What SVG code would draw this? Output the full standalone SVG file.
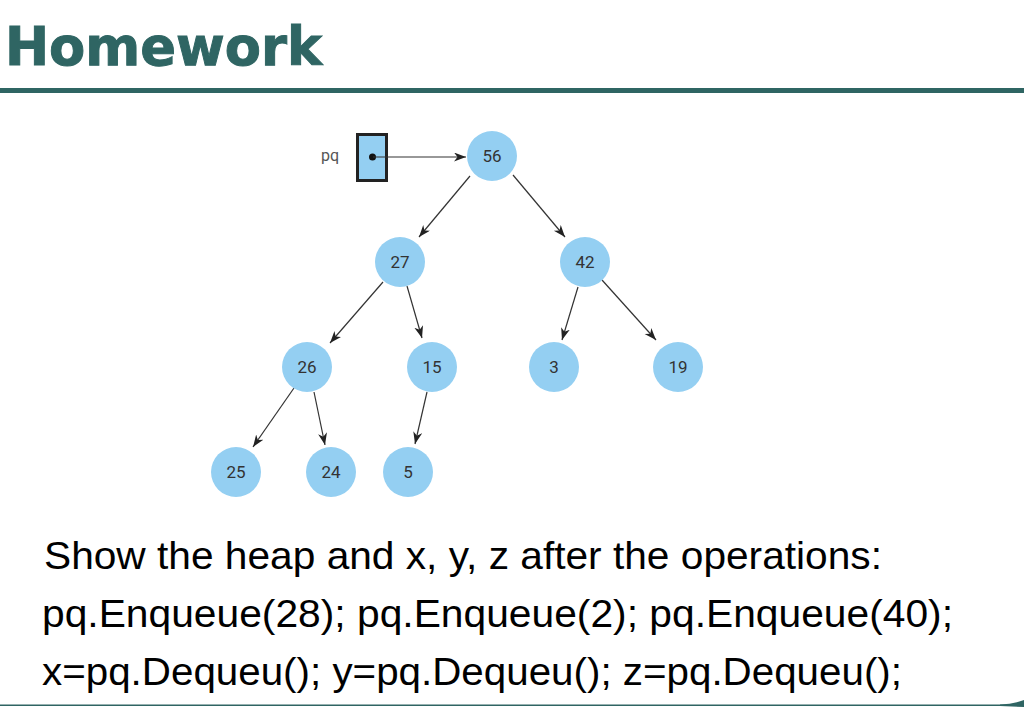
<svg xmlns="http://www.w3.org/2000/svg" width="1024" height="707" viewBox="0 0 1024 707">
  <style>
    .node circle { fill: #94CFF2; }
    .node text { font-family: Roboto, "Liberation Sans", sans-serif; font-size: 17px; fill: #333333; text-anchor: middle; }
    .edge { stroke: #333333; stroke-width: 1.2; fill: none; marker-end: url(#arr); }
    .body { font-family: "Liberation Sans", Arial, sans-serif; font-size: 39px; fill: #000000; }
    .teal { fill: #2F6563; }
  </style>
  <defs>
    <marker id="arr" markerUnits="userSpaceOnUse" markerWidth="14" markerHeight="10" refX="12" refY="4.5" orient="auto">
      <path d="M0,0 L12,4.5 L0,9 L3.5,4.5 Z" fill="#222222"/>
    </marker>
  </defs>
  <rect width="1024" height="707" fill="#ffffff"/>

  <g id="title">
    <text x="5" y="65" font-family="'DejaVu Sans', 'Liberation Sans', sans-serif" font-weight="bold" font-size="54" fill="#2F6563" stroke="#2F6563" stroke-width="1" textLength="317" lengthAdjust="spacingAndGlyphs">Homework</text>
    <rect class="teal" x="0" y="88" width="1024" height="5"/>
  </g>

  <g id="pointer">
    <text x="321" y="161" font-family="Roboto, 'Liberation Sans', sans-serif" font-size="16" fill="#555555">pq</text>
    <rect x="357.5" y="134.5" width="29" height="46" fill="#94CFF2" stroke="#222222" stroke-width="3"/>
    <circle cx="372.5" cy="157" r="3.5" fill="#111111"/>
  </g>

  <g id="connectors">
    <line class="edge" x1="373" y1="157" x2="466" y2="157"/>
    <line class="edge" x1="470" y1="176" x2="419" y2="237"/>
    <line class="edge" x1="513" y1="175" x2="565" y2="237"/>
    <line class="edge" x1="383" y1="282" x2="330" y2="343"/>
    <line class="edge" x1="407" y1="286" x2="422" y2="338"/>
    <line class="edge" x1="578" y1="287" x2="562" y2="340"/>
    <line class="edge" x1="602" y1="280" x2="656" y2="340"/>
    <line class="edge" x1="294" y1="388" x2="253" y2="447"/>
    <line class="edge" x1="314" y1="392" x2="325" y2="445"/>
    <line class="edge" x1="427" y1="392" x2="415" y2="444"/>
  </g>

  <g id="n56" class="node"><circle cx="492" cy="156" r="25"/><text x="492" y="162">56</text></g>
  <g id="n27" class="node"><circle cx="400" cy="262" r="25"/><text x="400" y="268">27</text></g>
  <g id="n42" class="node"><circle cx="585" cy="262" r="25"/><text x="585" y="268">42</text></g>
  <g id="n26" class="node"><circle cx="307" cy="367" r="25"/><text x="307" y="373">26</text></g>
  <g id="n15" class="node"><circle cx="432" cy="367" r="25"/><text x="432" y="373">15</text></g>
  <g id="n3" class="node"><circle cx="554" cy="367" r="25"/><text x="554" y="373">3</text></g>
  <g id="n19" class="node"><circle cx="678" cy="367" r="25"/><text x="678" y="373">19</text></g>
  <g id="n25" class="node"><circle cx="236" cy="472" r="25"/><text x="236" y="478">25</text></g>
  <g id="n24" class="node"><circle cx="331" cy="472" r="25"/><text x="331" y="478">24</text></g>
  <g id="n5" class="node"><circle cx="408" cy="472" r="25"/><text x="408" y="478">5</text></g>

  <g id="question">
    <text class="body" x="44" y="569" textLength="838" lengthAdjust="spacingAndGlyphs">Show the heap and x, y, z after the operations:</text>
    <text class="body" x="42" y="627" textLength="911" lengthAdjust="spacingAndGlyphs">pq.Enqueue(28); pq.Enqueue(2); pq.Enqueue(40);</text>
    <text class="body" x="42" y="685" textLength="860" lengthAdjust="spacingAndGlyphs">x=pq.Dequeu(); y=pq.Dequeu(); z=pq.Dequeu();</text>
  </g>

  <g id="footer">
    <rect class="teal" x="0" y="704.5" width="1024" height="1.5"/>
    <path class="teal" d="M1000,704.5 Q1014,704 1024,700 L1024,707 L1000,706 Z"/>
  </g>
</svg>
